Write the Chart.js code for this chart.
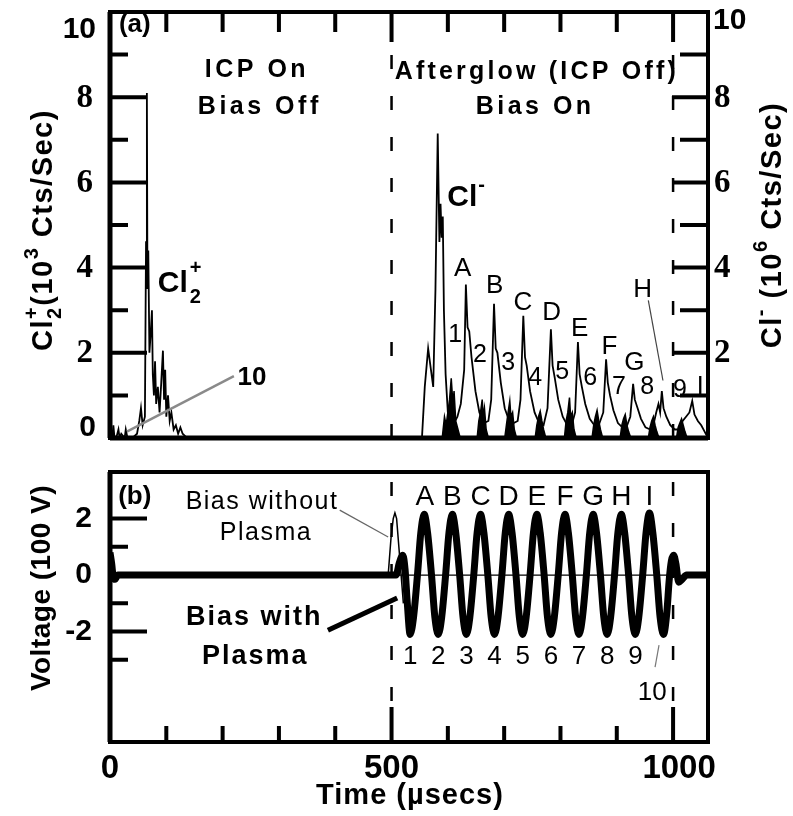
<!DOCTYPE html>
<html>
<head>
<meta charset="utf-8">
<script src="https://cdn.jsdelivr.net/npm/chart.js@4.4.0/dist/chart.umd.min.js"></script>
<style>
body { margin: 0; background: #fff; }
#wrap { position: relative; width: 793px; height: 816px; }
canvas { position: absolute; left: 0; }
</style>
</head>
<body>
<div id="wrap">
<canvas id="chartA" width="793" height="450" style="top:0"></canvas>
<canvas id="chartB" width="793" height="366" style="top:450px"></canvas>
</div>
<script>
// ---- panel (a): ion counts ----
// Cl2+ while the ICP is on (left axis, 10^3 cts/s)
const cl2OnTime = [
  0, 4, 6, 8, 12, 15, 17, 20, 26, 28,
  31, 40, 48, 52, 55, 58, 62, 64, 65.5, 66.5,
  68, 70, 72, 74.5, 76, 78, 80, 82, 85, 88,
  91, 94, 96, 98, 100, 103, 106, 109, 113, 117,
  121, 125, 129, 133, 137];
const cl2OnCounts = [
  0, 0, 0.3, 0, 0.05, 0.2, 0, 0.1, 0, 0.2,
  0, 0, 0.1, 0.4, 0.7, 0.3, 0.5, 4.6, 8.1, 3.5,
  4.4, 2.0, 2.4, 3.0, 1.5, 1.0, 1.8, 0.8, 1.2, 0.6,
  1.3, 2.05, 0.9, 1.6, 0.5, 1.0, 0.4, 0.6, 0.2, 0.3,
  0.1, 0.25, 0.1, 0.05, 0];

// Cl2+ bursts at the bias troughs 1..9 (left axis)
const burstTime = [
  590, 594, 597, 600, 603, 606, 609, 611, 614, 618, 622,
  652, 655, 658, 661, 663, 665, 668, 672,
  701, 704, 707, 710, 712, 715, 718, 722,
  755, 758, 761, 764, 767, 770, 774,
  807, 810, 813, 816, 818, 821, 824, 828,
  856, 859, 862, 865, 868, 871, 875,
  906, 909, 912, 915, 918, 921, 925,
  956, 959, 962, 965, 968, 971, 975,
  1006, 1009, 1012, 1015, 1018, 1021, 1025];
const burstCounts = [
  0, 0.5, 0.3, 0.6, 0.9, 1.4, 0.8, 1.1, 0.4, 0.2, 0,
  0, 0.4, 0.6, 0.9, 0.5, 0.7, 0.2, 0,
  0, 0.3, 0.6, 0.87, 0.5, 0.6, 0.2, 0,
  0, 0.3, 0.5, 0.63, 0.4, 0.2, 0,
  0, 0.4, 0.6, 0.95, 0.5, 0.6, 0.2, 0,
  0, 0.3, 0.5, 0.65, 0.4, 0.2, 0,
  0, 0.3, 0.45, 0.55, 0.3, 0.15, 0,
  0, 0.25, 0.4, 0.5, 0.3, 0.15, 0,
  0, 0.25, 0.35, 0.45, 0.3, 0.15, 0];

// Cl- in the afterglow (right axis, 10^6 cts/s)
const clTime = [
  554, 559, 565, 570, 574, 578, 582, 585, 587, 589,
  591, 593, 596, 600, 605, 611, 617, 623, 629, 632,
  635, 638, 642, 649, 656, 664, 672, 677, 682, 685,
  688, 694, 701, 709, 717, 724, 729, 734, 737, 740,
  746, 754, 762, 770, 777, 783, 786, 790, 796, 804,
  812, 820, 826, 831, 834, 838, 844, 852, 860, 868,
  876, 881, 884, 888, 894, 902, 910, 917, 924, 929,
  932, 937, 943, 951, 959, 965, 970, 974, 977, 980,
  983, 988, 995, 1003, 1011, 1017, 1023, 1029, 1034, 1038,
  1044, 1050, 1056, 1062];
const clCounts = [
  0, 1.2, 2.1, 1.6, 1.2, 3.5, 7.15, 4.6, 5.5, 4.7,
  5.2, 3.0, 1.5, 0.6, 0.3, 0.35, 0.5, 0.8, 1.6, 3.6,
  2.6, 2.5, 1.9, 1.1, 0.6, 0.35, 0.4, 0.9, 3.15, 2.1,
  2.0, 1.3, 0.7, 0.4, 0.35, 0.4, 0.9, 2.87, 1.9, 1.7,
  1.1, 0.6, 0.35, 0.3, 0.7, 2.55, 1.7, 1.4, 0.9, 0.5,
  0.3, 0.3, 0.6, 2.25, 1.5, 1.2, 0.8, 0.45, 0.3, 0.3,
  0.6, 1.85, 1.3, 1.0, 0.65, 0.35, 0.25, 0.25, 0.5, 1.27,
  0.9, 0.7, 0.45, 0.25, 0.2, 0.3, 0.6, 0.8, 0.6, 1.1,
  0.7, 0.5, 0.3, 0.2, 0.2, 0.4, 0.5, 0.6, 0.87, 0.55,
  0.4, 0.3, 0.15, 0];

// ---- panel (b): bias voltage (100 V) ----
const biasPlasmaTime = [
  0, 3, 6, 9, 14, 500, 508, 514, 520, 524, 528,
  533, 539, 546, 552, 558, 564, 571, 577,
  583, 589, 596, 602, 608, 614, 621, 627,
  633, 639, 646, 652, 658, 664, 671, 677,
  683, 689, 696, 702, 708, 714, 721, 727,
  733, 739, 746, 752, 758, 764, 771, 777,
  783, 789, 796, 802, 808, 814, 821, 827,
  833, 839, 846, 852, 858, 864, 871, 877,
  883, 889, 896, 902, 908, 914, 921, 927,
  933, 939, 946, 952, 958, 964, 971, 977,
  983, 989, 993, 997, 1001, 1005, 1010, 1016, 1024, 1062];
const biasPlasmaVolt = [
  0.8, 0.4, -0.1, -0.15, 0, 0, 0, 0.45, 0.7, 0.2, -1.0,
  -2.1, -1.5, 0, 1.5, 2.15, 1.5, 0, -1.5,
  -2.1, -1.5, 0, 1.5, 2.15, 1.5, 0, -1.5,
  -2.1, -1.5, 0, 1.5, 2.15, 1.5, 0, -1.5,
  -2.1, -1.5, 0, 1.5, 2.15, 1.5, 0, -1.5,
  -2.1, -1.5, 0, 1.5, 2.15, 1.5, 0, -1.5,
  -2.1, -1.5, 0, 1.5, 2.15, 1.5, 0, -1.5,
  -2.1, -1.5, 0, 1.5, 2.15, 1.5, 0, -1.5,
  -2.1, -1.5, 0, 1.5, 2.15, 1.5, 0, -1.5,
  -2.1, -1.5, 0, 1.5, 2.2, 1.5, 0, -1.5,
  -2.1, -1.3, -0.2, 0.5, 0.7, 0.4, -0.25, -0.15, 0, 0];

const biasVacTime = [0, 494, 499, 503, 506, 509, 513, 517, 521];
const biasVacVolt = [0, 0, 1.3, 2.0, 2.2, 2.0, 1.0, 0, -1.0];

// peak / trough markers
const biasPeakNames = ['A', 'B', 'C', 'D', 'E', 'F', 'G', 'H', 'I'];
const biasPeakTimes = [559, 608, 658, 708, 758, 808, 858, 908, 958];
const biasTroughNames = ['1', '2', '3', '4', '5', '6', '7', '8', '9'];
const biasTroughTimes = [533, 583, 633, 683, 733, 783, 833, 883, 933];

// ticks
const timeMajor = [500, 1000];
const timeMinor = [100, 200, 300, 400, 600, 700, 800, 900];
const timeLabels = [0, 500, 1000];
const countMajor = [2, 4, 6, 8];
const countMinor = [1, 3, 5, 7, 9];
const voltMajor = [2, -2];
const voltMinor = [1, -1, -3];
const voltLabels = [2, 0, -2];

const SANS = '"Liberation Sans", Arial, Helvetica, sans-serif';
const SERIF = '"Liberation Serif", serif';

function pts(ts, vs) {
  return ts.map((t, i) => ({ x: t, y: vs[i] }));
}

function setSpacing(ctx, ls) {
  if ('letterSpacing' in ctx) ctx.letterSpacing = (ls || 0) + 'px';
}

// spacing is set before the font so the font string is the last thing applied
function label(ctx, str, x, y, font, ls, align) {
  if (ls) setSpacing(ctx, ls);
  ctx.font = font;
  ctx.textAlign = align || 'center';
  ctx.textBaseline = 'middle';
  ctx.fillText(str, x, y);
  if (ls) setSpacing(ctx, 0);
}

function line(ctx, x1, y1, x2, y2, color, w) {
  ctx.beginPath();
  ctx.strokeStyle = color;
  ctx.lineWidth = w;
  ctx.moveTo(x1, y1);
  ctx.lineTo(x2, y2);
  ctx.stroke();
}

// text with sub/superscripts: parts = [[text, sub, sup], ...]
function rich(ctx, parts, x, y, size, rotate, ls) {
  ctx.save();
  ctx.translate(x, y);
  if (rotate) ctx.rotate(-Math.PI / 2);
  const big = 'bold ' + size + 'px ' + SANS;
  const small = 'bold ' + Math.round(size * 0.68) + 'px ' + SANS;
  ctx.textBaseline = 'middle';
  ctx.textAlign = 'left';
  setSpacing(ctx, ls);
  let w = 0;
  parts.forEach(p => {
    ctx.font = big; w += ctx.measureText(p[0]).width;
    ctx.font = small;
    w += Math.max(p[1] ? ctx.measureText(p[1]).width : 0, p[2] ? ctx.measureText(p[2]).width : 0);
  });
  let cx = -w / 2;
  parts.forEach(p => {
    ctx.font = big;
    ctx.fillText(p[0], cx, 0);
    cx += ctx.measureText(p[0]).width;
    ctx.font = small;
    let sw = 0;
    if (p[1]) { ctx.fillText(p[1], cx, size * 0.38); sw = ctx.measureText(p[1]).width; }
    if (p[2]) { ctx.fillText(p[2], cx, -size * 0.4); sw = Math.max(sw, ctx.measureText(p[2]).width); }
    cx += sw;
  });
  setSpacing(ctx, 0);
  ctx.restore();
}

function tickMarks(ctx, a, scale, values, len, side) {
  ctx.beginPath();
  values.forEach(v => {
    const p = scale.getPixelForValue(v);
    if (side === 'left') { ctx.moveTo(a.left, p); ctx.lineTo(a.left + len, p); }
    if (side === 'right') { ctx.moveTo(a.right, p); ctx.lineTo(a.right - len, p); }
    if (side === 'top') { ctx.moveTo(p, a.top); ctx.lineTo(p, a.top + len); }
    if (side === 'bottom') { ctx.moveTo(p, a.bottom); ctx.lineTo(p, a.bottom - len); }
  });
  ctx.stroke();
}

function baseOptions(pad, yMin, yMax) {
  return {
    responsive: false,
    animation: false,
    devicePixelRatio: 1,
    layout: { padding: pad },
    plugins: { legend: { display: false }, tooltip: { enabled: false } },
    elements: { point: { radius: 0 }, line: { tension: 0 } },
    scales: {
      x: { type: 'linear', min: 0, max: 1062, display: false },
      y: { min: yMin, max: yMax, display: false },
      y2: { min: yMin, max: yMax, display: false, position: 'right' }
    }
  };
}

const decorA = {
  id: 'decorA',
  afterDatasetsDraw(chart) {
    const ctx = chart.ctx, a = chart.chartArea;
    const sx = chart.scales.x, sy = chart.scales.y, sy2 = chart.scales.y2;
    const P = (t, v) => [sx.getPixelForValue(t), sy.getPixelForValue(v)];
    ctx.save();
    setSpacing(ctx, 0);
    ctx.fillStyle = '#000';
    ctx.strokeStyle = '#000';
    ctx.lineWidth = 4;
    ctx.strokeRect(a.left, a.top, a.right - a.left, a.bottom - a.top);
    line(ctx, a.left, a.bottom, a.right, a.bottom, '#000', 5);
    line(ctx, a.left, a.top, a.left, a.bottom, '#000', 5);
    ctx.strokeStyle = '#000';
    ctx.lineWidth = 4;
    tickMarks(ctx, a, sy, countMajor, 37, 'left');
    tickMarks(ctx, a, sy, countMinor, 18, 'left');
    tickMarks(ctx, a, sy2, countMajor, 36, 'right');
    tickMarks(ctx, a, sy2, countMinor, 28, 'right');
    tickMarks(ctx, a, sx, timeMinor, 20, 'top');
    tickMarks(ctx, a, sx, timeMajor, 30, 'top');

    // tick labels (serif digits for the even marks, as in the original)
    const fs = 'bold 30px ' + SANS, fr = 'bold 33px ' + SERIF;
    countMajor.forEach(v => label(ctx, String(v), a.left - 17, sy.getPixelForValue(v) + 1, fr, 0, 'right'));
    countMajor.forEach(v => label(ctx, String(v), a.right + 6, sy2.getPixelForValue(v) + 1, fr, 0, 'left'));
    label(ctx, '10', a.left - 14, sy.getPixelForValue(9.58), fs, 0, 'right');
    label(ctx, '0', a.left - 14, sy.getPixelForValue(0.25), fs, 0, 'right');
    label(ctx, '10', a.right + 5, sy2.getPixelForValue(9.8), fs, 0, 'left');

    // axis titles
    rich(ctx, [['Cl', '2', '+'], ['(10', null, '3'], [' Cts/Sec)']], 44, 230, 29, true, 1.5);
    rich(ctx, [['Cl', null, '-'], [' (10', null, '6'], [' Cts/Sec)']], 773, 225, 29, true, 1.5);

    // panel text
    let p;
    p = P(44, 9.7); label(ctx, '(a)', p[0], p[1], 'bold 26px ' + SANS);
    const hdr = 'bold 25px ' + SANS;
    p = P(261, 8.64); label(ctx, 'ICP On', p[0], p[1], hdr, 3.5);
    p = P(266, 7.77); label(ctx, 'Bias Off', p[0], p[1], hdr, 3.5);
    p = P(758, 8.59); label(ctx, 'Afterglow (ICP Off)', p[0], p[1], hdr, 3.2);
    p = P(755, 7.77); label(ctx, 'Bias On', p[0], p[1], hdr, 3.5);

    // species labels
    p = P(599, 5.65); ctx.font = 'bold 30px ' + SANS; ctx.textAlign = 'left';
    ctx.fillText('Cl', p[0], p[1]);
    let w = ctx.measureText('Cl').width;
    ctx.font = 'bold 20px ' + SANS; ctx.fillText('-', p[0] + w + 1, p[1] - 12);
    p = P(85, 3.63); ctx.font = 'bold 30px ' + SANS;
    ctx.fillText('Cl', p[0], p[1]);
    w = ctx.measureText('Cl').width;
    ctx.font = 'bold 20px ' + SANS;
    ctx.fillText('+', p[0] + w + 2, p[1] - 15);
    ctx.fillText('2', p[0] + w + 2, p[1] + 14);

    // "10" leader
    let p1 = P(30, 0.15), p2 = P(220, 1.45);
    line(ctx, p1[0], p1[1], p2[0], p2[1], '#8a8a8a', 2.5);
    p = P(252, 1.42); ctx.fillStyle = '#000'; label(ctx, '10', p[0], p[1], 'bold 26px ' + SANS);

    // Cl- peak letters and trough numbers
    const lf = '26px ' + SANS, nf = '500 25px ' + SANS;
    [['A', 627, 3.98], ['B', 684, 3.58], ['C', 734, 3.18], ['D', 785, 2.93], ['E', 835, 2.57],
     ['F', 888, 2.13], ['G', 932, 1.77], ['H', 947, 3.47]].forEach(q => {
      p = P(q[1], q[2]); label(ctx, q[0], p[0], p[1], lf, 1);
    });
    p1 = P(956, 3.23); p2 = P(982, 1.35);
    line(ctx, p1[0], p1[1], p2[0], p2[1], '#444', 1.2);
    [['1', 613, 2.41], ['2', 657, 1.94], ['3', 707, 1.75], ['4', 755, 1.40], ['5', 803, 1.54],
     ['6', 853, 1.40], ['7', 904, 1.19], ['8', 954, 1.19], ['9', 1012, 1.12], ['I', 1048, 1.19]].forEach(q => {
      p = P(q[1], q[2]); label(ctx, q[0], p[0], p[1], nf);
    });
    ctx.restore();
  }
};

const decorB = {
  id: 'decorB',
  afterDatasetsDraw(chart) {
    const ctx = chart.ctx, a = chart.chartArea;
    const sx = chart.scales.x, sy = chart.scales.y;
    const P = (t, v) => [sx.getPixelForValue(t), sy.getPixelForValue(v)];
    ctx.save();
    setSpacing(ctx, 0);
    ctx.fillStyle = '#000';
    ctx.strokeStyle = '#000';
    ctx.lineWidth = 4;
    ctx.strokeRect(a.left, a.top, a.right - a.left, a.bottom - a.top);
    line(ctx, a.left, a.top, a.left, a.bottom, '#000', 5);
    ctx.strokeStyle = '#000';
    ctx.lineWidth = 4;
    tickMarks(ctx, a, sy, voltMajor, 37, 'left');
    tickMarks(ctx, a, sy, voltMinor, 18, 'left');
    tickMarks(ctx, a, sx, timeMinor, 16, 'bottom');
    tickMarks(ctx, a, sx, timeMajor, 35, 'bottom');

    const fs = 'bold 30px ' + SANS;
    voltLabels.forEach(v => label(ctx, String(v), a.left - 18, sy.getPixelForValue(v), fs, 0, 'right'));
    timeLabels.forEach(v => label(ctx, String(v), sx.getPixelForValue(v) + (v === 1000 ? 6 : 0), a.bottom + 27, 'bold 33px ' + SANS));
    label(ctx, 'Time (\u00b5secs)', 410, a.bottom + 54, 'bold 29px ' + SANS, 1);
    ctx.save();
    ctx.translate(42, 138);
    ctx.rotate(-Math.PI / 2);
    label(ctx, 'Voltage (100 V)', 0, 0, 'bold 28px ' + SANS, 0.5);
    ctx.restore();

    let p, p1, p2;
    p = P(44, 2.76); label(ctx, '(b)', p[0], p[1], 'bold 26px ' + SANS);
    p = P(270, 2.58); label(ctx, 'Bias without', p[0], p[1], '25px ' + SANS, 1.5);
    p = P(277, 1.49); label(ctx, 'Plasma', p[0], p[1], '25px ' + SANS, 1.5);
    p1 = P(408, 2.30); p2 = P(494, 1.35);
    line(ctx, p1[0], p1[1], p2[0], p2[1], '#666', 1.2);
    p = P(256, -1.49); label(ctx, 'Bias with', p[0], p[1], 'bold 27px ' + SANS, 2);
    p = P(258, -2.87); label(ctx, 'Plasma', p[0], p[1], 'bold 27px ' + SANS, 2);
    p1 = P(387, -1.95); p2 = P(510, -0.81);
    line(ctx, p1[0], p1[1], p2[0], p2[1], '#000', 5);

    biasPeakNames.forEach((n, i) => {
      p = P(biasPeakTimes[i], 2.76); label(ctx, n, p[0], p[1], '28px ' + SANS);
    });
    biasTroughNames.forEach((n, i) => {
      p = P(biasTroughTimes[i], -2.9); label(ctx, n, p[0], p[1], '500 26px ' + SANS);
    });
    p1 = P(968, -3.26); p2 = P(975, -2.48);
    line(ctx, p1[0], p1[1], p2[0], p2[1], '#777', 1.2);
    p = P(963, -4.18); label(ctx, '10', p[0], p[1], '500 26px ' + SANS);
    ctx.restore();
  }
};

const dash = [14, 27];

new Chart(document.getElementById('chartA'), {
  type: 'line',
  data: {
    datasets: [
      { data: pts(cl2OnTime, cl2OnCounts), yAxisID: 'y', borderColor: '#000', borderWidth: 1.8 },
      { data: pts(burstTime, burstCounts), yAxisID: 'y', borderColor: '#000', borderWidth: 1.5,
        fill: 'origin', backgroundColor: '#000' },
      { data: pts(clTime, clCounts), yAxisID: 'y2', borderColor: '#000', borderWidth: 1.8 },
      { data: [{ x: 500, y: 0 }, { x: 500, y: 10 }], yAxisID: 'y', borderColor: '#000', borderWidth: 2.5, borderDash: dash },
      { data: [{ x: 1000, y: 0 }, { x: 1000, y: 10 }], yAxisID: 'y', borderColor: '#000', borderWidth: 2.5, borderDash: dash }
    ]
  },
  options: baseOptions({ left: 110, right: 85, top: 12, bottom: 12 }, 0, 10),
  plugins: [decorA]
});

new Chart(document.getElementById('chartB'), {
  type: 'line',
  data: {
    datasets: [
      { data: pts(biasVacTime, biasVacVolt), borderColor: '#000', borderWidth: 1.5 },
      { data: [{ x: 500, y: 0 }, { x: 1000, y: 0 }], borderColor: '#000', borderWidth: 1.2 },
      { data: pts(biasPlasmaTime, biasPlasmaVolt), borderColor: '#000', borderWidth: 7,
        cubicInterpolationMode: 'monotone' },
      { data: [{ x: 500, y: -5.91 }, { x: 500, y: 3.65 }], borderColor: '#000', borderWidth: 2.5, borderDash: dash },
      { data: [{ x: 1000, y: -5.91 }, { x: 1000, y: 3.65 }], borderColor: '#000', borderWidth: 2.5, borderDash: dash }
    ]
  },
  options: baseOptions({ left: 110, right: 85, top: 22, bottom: 74 }, -5.91, 3.65),
  plugins: [decorB]
});
</script>
</body>
</html>
